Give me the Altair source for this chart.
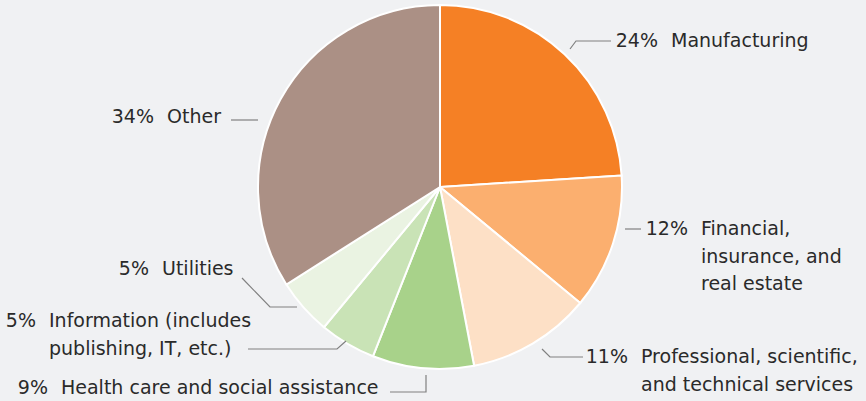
import altair as alt
import pandas as pd

# ---- data ----
categories = [
    "Manufacturing",
    "Financial,\ninsurance, and\nreal estate",
    "Professional, scientific,\nand technical services",
    "Health care and social assistance",
    "Information (includes\npublishing, IT, etc.)",
    "Utilities",
    "Other",
]
shares = [24, 12, 11, 9, 5, 5, 34]
pct_labels = ["24%", "12%", "11%", "9%", "5%", "5%", "34%"]
colors = ["#F58025", "#FBAF6F", "#FDE0C6", "#A8D28A", "#C9E3B6", "#EAF3E2", "#AB9085"]

# ---- layout (pixel positions of annotations) ----
W, H = 866, 401
CX, CY, R = 440, 187, 182
name_x = [671, 701, 641, 61, 49, 162, 167]
first_line_y = [41, 229, 357, 388, 321, 269, 117]
LINE_H = 27.5
GAP = 13
leader_x = [[570, 576, 611], [625, 641], [542, 550, 583], [426, 426, 390],
            [346, 337, 248], [297, 270, 242], [258, 231]]
leader_y = [[49, 41, 41], [229, 229], [349, 357, 357], [375, 392, 392],
            [341, 349, 349], [307, 307, 278], [120, 120]]

pie_df = pd.DataFrame({"category": categories, "share": shares,
                       "idx": list(range(len(categories)))})

name_rows, pct_rows, line_rows = [], [], []
for i, cat in enumerate(categories):
    for j, ln in enumerate(cat.split("\n")):
        name_rows.append({"text": ln, "x": name_x[i], "y": first_line_y[i] + j * LINE_H})
    pct_rows.append({"text": pct_labels[i], "x": name_x[i] - GAP, "y": first_line_y[i]})
    for k, (lx, ly) in enumerate(zip(leader_x[i], leader_y[i])):
        line_rows.append({"lid": i, "pt": k, "x": lx, "y": ly})

name_df = pd.DataFrame(name_rows)
pct_df = pd.DataFrame(pct_rows)
line_df = pd.DataFrame(line_rows)

xs = alt.Scale(domain=[0, W], range=[0, W])
ys = alt.Scale(domain=[0, H], range=[0, H])

pie = alt.Chart(pie_df).mark_arc(outerRadius=R, stroke="white", strokeWidth=2).encode(
    theta=alt.Theta("share:Q", stack=True),
    order=alt.Order("idx:Q"),
    color=alt.Color("category:N", scale=alt.Scale(domain=categories, range=colors), legend=None),
    x=alt.value(CX),
    y=alt.value(CY),
)

leaders = alt.Chart(line_df).mark_line(color="#808080", strokeWidth=1.2).encode(
    x=alt.X("x:Q", scale=xs, axis=None),
    y=alt.Y("y:Q", scale=ys, axis=None),
    detail="lid:N",
    order="pt:Q",
)

font = "DejaVu Sans"
names = alt.Chart(name_df).mark_text(align="left", baseline="middle", font=font,
                                     fontSize=19, color="#2A2A2A").encode(
    x=alt.X("x:Q", scale=xs, axis=None),
    y=alt.Y("y:Q", scale=ys, axis=None),
    text="text:N",
)
pcts = alt.Chart(pct_df).mark_text(align="right", baseline="middle", font=font,
                                   fontSize=19, color="#2A2A2A").encode(
    x=alt.X("x:Q", scale=xs, axis=None),
    y=alt.Y("y:Q", scale=ys, axis=None),
    text="text:N",
)

chart = alt.layer(pie, leaders, names, pcts).properties(
    width=W, height=H, background="#F0F1F3", padding=0,
    autosize=alt.AutoSizeParams(type="none"),
).configure_view(stroke=None)

chart.save("out.html", embed_options={"renderer": "svg", "actions": False})
